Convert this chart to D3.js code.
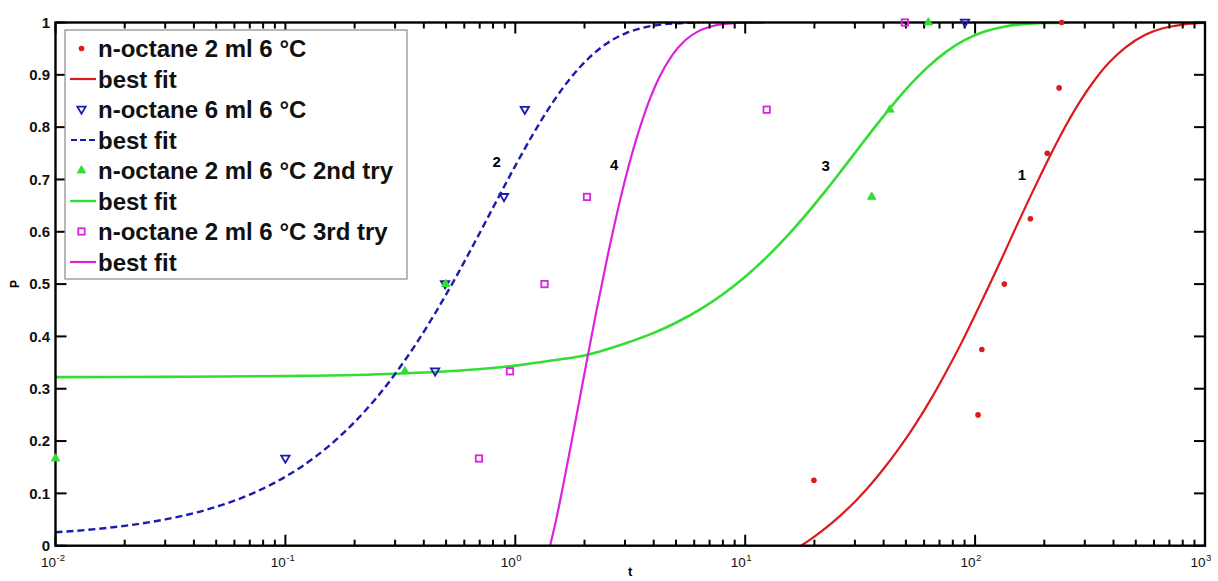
<!DOCTYPE html>
<html>
<head>
<meta charset="utf-8">
<script src="https://cdn.jsdelivr.net/npm/d3@7/dist/d3.min.js"></script>
<style>
  html, body { margin: 0; padding: 0; background: #ffffff; }
  svg { display: block; font-family: "Liberation Sans", Arial, sans-serif; }
</style>
</head>
<body>
<svg id="chart" width="1218" height="581"></svg>
<script>
// ---- measured cumulative probabilities P(t) ----
const redT = [19.9, 103, 107, 134, 174, 206, 232, 238];
const redP = [0.125, 0.25, 0.375, 0.5, 0.625, 0.75, 0.875, 1.0];

const blueT = [0.1, 0.448, 0.495, 0.893, 1.10, 90.4];
const blueP = [1/6, 1/3, 1/2, 2/3, 5/6, 1.0];

const greenT = [0.01, 0.331, 0.498, 35.5, 42.6, 62.6];
const greenP = [1/6, 1/3, 1/2, 2/3, 5/6, 1.0];

const magentaT = [0.695, 0.948, 1.34, 2.05, 12.4, 49.5];
const magentaP = [1/6, 1/3, 1/2, 2/3, 5/6, 1.0];

// ---- best-fit curves (tabulated) ----
const redFitT = [17.5, 20, 23, 26, 30, 35, 40, 47, 55, 65, 75, 88, 100, 115, 130, 150, 175, 200, 230, 270, 320, 380, 450, 550, 650, 800, 1000];
const redFitP = [0, 0.0175, 0.038, 0.058, 0.084, 0.116, 0.147, 0.188, 0.232, 0.284, 0.333, 0.391, 0.441, 0.497, 0.547, 0.607, 0.670, 0.723, 0.776, 0.831, 0.881, 0.922, 0.952, 0.9765, 0.9884, 0.996, 0.999];

const blueFitT = [0.01, 0.015, 0.02, 0.03, 0.045, 0.065, 0.09, 0.12, 0.16, 0.2, 0.25, 0.3, 0.37, 0.45, 0.55, 0.67, 0.8, 1.0, 1.2, 1.45, 1.75, 2.1, 2.5, 3.0, 3.6, 4.3, 5.2, 6.3];
const blueFitP = [0.0256, 0.0318, 0.0380, 0.0502, 0.0683, 0.0919, 0.1206, 0.1537, 0.1961, 0.2363, 0.2837, 0.3282, 0.3858, 0.4457, 0.5123, 0.5819, 0.6461, 0.7261, 0.7880, 0.8462, 0.8953, 0.9331, 0.9600, 0.9789, 0.9902, 0.9960, 0.9987, 0.9997];

const greenFitT = [0.01, 0.03, 0.1, 0.3, 0.6, 1, 1.5, 2, 3, 4, 5, 6.5, 8, 10, 12.5, 15, 18, 22, 26, 31, 37, 44, 52, 62, 75, 90, 110, 135, 165, 200, 250];
const greenFitP = [0.3222, 0.3227, 0.3243, 0.3287, 0.3354, 0.3442, 0.3551, 0.3637, 0.3865, 0.4067, 0.4261, 0.4541, 0.4807, 0.5142, 0.5530, 0.5888, 0.6279, 0.6743, 0.7150, 0.7588, 0.8025, 0.8436, 0.8802, 0.9142, 0.9444, 0.9662, 0.9827, 0.9925, 0.9972, 0.9991, 0.9998];

const magentaFitT = [1.416, 1.5, 1.6, 1.75, 1.9, 2.05, 2.25, 2.5, 2.75, 3.0, 3.3, 3.7, 4.2, 4.8, 5.5, 6.3, 7.3, 8.5, 10, 12];
const magentaFitP = [0, 0.0463, 0.1062, 0.1946, 0.2778, 0.3547, 0.4469, 0.5462, 0.6294, 0.6985, 0.7657, 0.8336, 0.8925, 0.9369, 0.9666, 0.9840, 0.9938, 0.9980, 0.9996, 0.9999];

// ---- curve numbers ----
const curveLabels = ["1", "2", "3", "4"];
const curveLabelT = [160, 0.83, 22.4, 2.69];
const curveLabelP = [0.71, 0.734, 0.727, 0.728];

// ---- axes ----
const xDomain = [0.01, 1000];
const xTickExps = ["-2", "-1", "0", "1", "2", "3"];
const yTicks = [0, 0.1, 0.2, 0.3, 0.4, 0.5, 0.6, 0.7, 0.8, 0.9, 1];
const yTickLabels = ["0", "0.1", "0.2", "0.3", "0.4", "0.5", "0.6", "0.7", "0.8", "0.9", "1"];

// ---- legend ----
const legendLabels = [
  "n-octane 2 ml 6 \u00B0C", "best fit",
  "n-octane 6 ml 6 \u00B0C", "best fit",
  "n-octane 2 ml 6 \u00B0C 2nd try", "best fit",
  "n-octane 2 ml 6 \u00B0C 3rd try", "best fit"
];

const COL = { red: "#dc1a1e", blue: "#1b1bb0", green: "#33dd33", magenta: "#dd22dd" };

const svg = d3.select("#chart");
const L = 55.5, R = 1205, T = 22.5, B = 545.7;

const x = d3.scaleLog().domain(xDomain).range([L, R]);
const y = d3.scaleLinear().domain([0, 1]).range([B, T]);

svg.append("defs").append("clipPath").attr("id", "plotClip")
  .append("rect").attr("x", L).attr("y", T - 1).attr("width", R - L).attr("height", B - T + 2);

// fitted curves
const line = d3.line().x(d => x(d[0])).y(d => y(d[1])).curve(d3.curveMonotoneX);
const zip = (a, b) => a.map((v, i) => [v, b[i]]);
const plot = svg.append("g").attr("clip-path", "url(#plotClip)");

plot.append("path").datum(zip(greenFitT, greenFitP)).attr("d", line)
  .attr("fill", "none").attr("stroke", COL.green).attr("stroke-width", 2.6);
plot.append("path").datum(zip(blueFitT, blueFitP)).attr("d", line)
  .attr("fill", "none").attr("stroke", COL.blue).attr("stroke-width", 2.4)
  .attr("stroke-dasharray", "7,4");
plot.append("path").datum(zip(magentaFitT, magentaFitP)).attr("d", line)
  .attr("fill", "none").attr("stroke", COL.magenta).attr("stroke-width", 2.2);
plot.append("path").datum(zip(redFitT, redFitP)).attr("d", line)
  .attr("fill", "none").attr("stroke", COL.red).attr("stroke-width", 2.2);

// axes: frame with inward ticks on all four sides
const ax = svg.append("g");
const majorLen = 11, minorLen = 6;
const minorTicks = [];
for (let e = -2; e < 3; e++) for (let m = 2; m <= 9; m++) minorTicks.push(m * Math.pow(10, e));
const majorTicks = xTickExps.map(e => Math.pow(10, +e));

function tickLines(g, vals, len) {
  vals.forEach(v => {
    const px = x(v);
    g.append("line").attr("x1", px).attr("x2", px).attr("y1", B).attr("y2", B - len);
    g.append("line").attr("x1", px).attr("x2", px).attr("y1", T).attr("y2", T + len);
  });
}
const tg = ax.append("g").attr("stroke", "#000").attr("stroke-width", 2);
tickLines(tg, minorTicks, minorLen);
tickLines(tg, majorTicks, majorLen);
yTicks.forEach(v => {
  tg.append("line").attr("x1", L).attr("x2", L + majorLen).attr("y1", y(v)).attr("y2", y(v));
  tg.append("line").attr("x1", R).attr("x2", R - majorLen).attr("y1", y(v)).attr("y2", y(v));
});
ax.append("rect").attr("x", L).attr("y", T).attr("width", R - L).attr("height", B - T)
  .attr("fill", "none").attr("stroke", "#000").attr("stroke-width", 2.4);

// y tick labels
ax.selectAll("text.ytl").data(yTicks).enter().append("text")
  .attr("x", L - 5.5).attr("y", d => y(d) + 5.2)
  .attr("text-anchor", "end").attr("font-size", 15).attr("font-weight", "bold")
  .attr("fill", "#111").text((d, i) => yTickLabels[i]);

// x tick labels as powers of ten
majorTicks.forEach((v, i) => {
  const px = x(v);
  ax.append("text").attr("x", px + 0.5).attr("y", 567).attr("text-anchor", "end")
    .attr("font-size", 13.5).attr("fill", "#111").text("10");
  ax.append("text").attr("x", px + 1).attr("y", 561).attr("text-anchor", "start")
    .attr("font-size", 9.5).attr("fill", "#111").text(xTickExps[i]);
});

// axis titles
svg.append("text").attr("x", (L + R) / 2).attr("y", 576).attr("text-anchor", "middle")
  .attr("font-size", 13).attr("font-weight", "bold").text("t");
svg.append("text").attr("transform", `translate(19,${y(0.5)}) rotate(-90)`)
  .attr("text-anchor", "middle").attr("font-size", 12).attr("font-weight", "bold").text("P");

// curve numbers
svg.selectAll("text.cl").data(curveLabels).enter().append("text")
  .attr("x", (d, i) => x(curveLabelT[i])).attr("y", (d, i) => y(curveLabelP[i]) + 5.5)
  .attr("text-anchor", "middle").attr("font-size", 15).attr("font-weight", "bold").text(d => d);

// marker shapes
const tri = d3.symbol().type(d3.symbolTriangle).size(30);
function drawDots(g, cx, cy) {
  g.append("circle").attr("cx", cx).attr("cy", cy).attr("r", 2.8).attr("fill", COL.red);
}
function drawTriDown(g, cx, cy) {
  g.append("path").attr("d", tri()).attr("transform", `translate(${cx},${cy - 0.5}) rotate(180)`)
    .attr("fill", "none").attr("stroke", COL.blue).attr("stroke-width", 1.8);
}
function drawTriUp(g, cx, cy) {
  g.append("path").attr("d", tri()).attr("transform", `translate(${cx},${cy})`)
    .attr("fill", COL.green).attr("stroke", COL.green).attr("stroke-width", 1);
}
function drawSquare(g, cx, cy) {
  g.append("rect").attr("x", cx - 3.2).attr("y", cy - 3.2).attr("width", 6.4).attr("height", 6.4)
    .attr("fill", "none").attr("stroke", COL.magenta).attr("stroke-width", 1.8);
}

const mk = svg.append("g");
blueT.forEach((t, i) => drawTriDown(mk, x(t), y(blueP[i])));
magentaT.forEach((t, i) => drawSquare(mk, x(t), y(magentaP[i])));
greenT.forEach((t, i) => drawTriUp(mk, x(t), y(greenP[i])));
redT.forEach((t, i) => drawDots(mk, x(t), y(redP[i])));

// legend
const lg = svg.append("g");
const lgX = 65, lgY = 30, lgW = 342, lgH = 249;
lg.append("rect").attr("x", lgX).attr("y", lgY).attr("width", lgW).attr("height", lgH)
  .attr("fill", "#fff").attr("stroke", "#8a8a8a").attr("stroke-width", 1.2);
const rowY = i => 48.5 + i * 30.5;
legendLabels.forEach((lab, i) => {
  lg.append("text").attr("x", 98).attr("y", rowY(i) + 8.5).attr("font-size", 24)
    .attr("font-weight", "bold").attr("fill", "#111").text(lab);
});
drawDots(lg, 81.5, rowY(0));
lg.append("line").attr("x1", 70).attr("x2", 96).attr("y1", rowY(1)).attr("y2", rowY(1))
  .attr("stroke", COL.red).attr("stroke-width", 2.2);
drawTriDown(lg, 81.5, rowY(2));
lg.append("line").attr("x1", 71).attr("x2", 97).attr("y1", rowY(3)).attr("y2", rowY(3))
  .attr("stroke", COL.blue).attr("stroke-width", 2.2).attr("stroke-dasharray", "6,3");
drawTriUp(lg, 81.5, rowY(4));
lg.append("line").attr("x1", 70).attr("x2", 96).attr("y1", rowY(5)).attr("y2", rowY(5))
  .attr("stroke", COL.green).attr("stroke-width", 2.4);
drawSquare(lg, 81.5, rowY(6));
lg.append("line").attr("x1", 70).attr("x2", 96).attr("y1", rowY(7)).attr("y2", rowY(7))
  .attr("stroke", COL.magenta).attr("stroke-width", 2.2);
</script>
</body>
</html>
